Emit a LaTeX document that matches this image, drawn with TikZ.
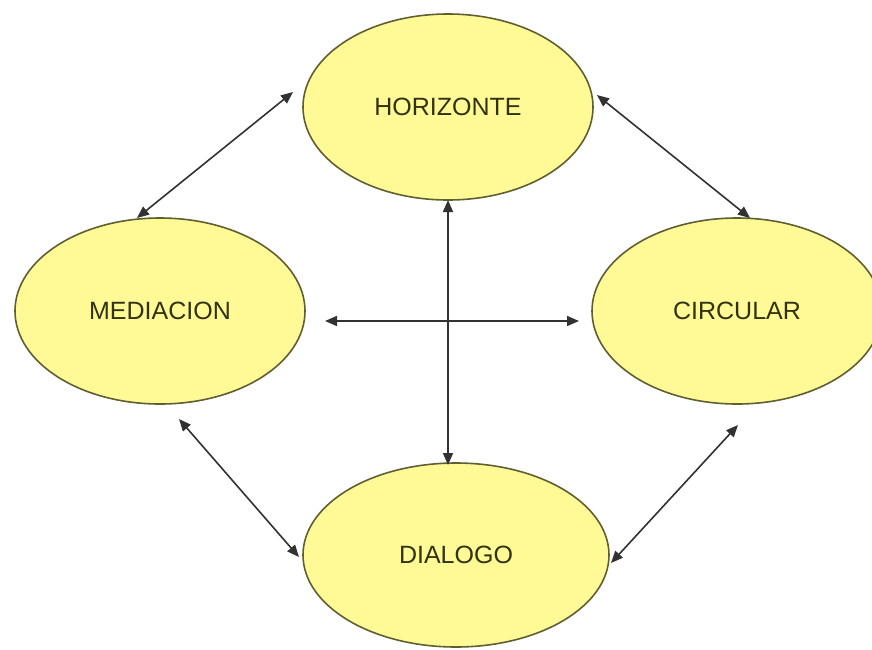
\documentclass[tikz,border=0pt]{standalone}
\usepackage{fontspec}
\setmainfont{Liberation Sans}
\usetikzlibrary{shapes.geometric,arrows.meta}
\definecolor{ellfill}{RGB}{255,250,150}
\definecolor{elldraw}{RGB}{95,95,50}
\definecolor{txtcol}{RGB}{50,50,15}
\definecolor{arrcol}{RGB}{50,50,50}
\tikzset{
  bubble/.style={ellipse, draw=elldraw, fill=ellfill, line width=1.6pt,
    minimum width=290pt, minimum height=186pt, inner sep=0pt,
    font=\fontsize{25}{28}\selectfont, text=txtcol},
  link/.style={draw=arrcol, line width=1.6pt,
    {Triangle[length=12pt,width=10pt]}-{Triangle[length=12pt,width=10pt]}}
}
\begin{document}
\begin{tikzpicture}[x=1pt,y=-1pt]
\useasboundingbox (0,0) rectangle (872,649);
\clip (0,0) rectangle (872,649);
\fill[white] (0,0) rectangle (872,649);
\node[bubble] (H) at (448,107) {HORIZONTE};
\node[bubble] (M) at (160,311) {MEDIACION};
\node[bubble] (C) at (737,311) {CIRCULAR};
\node[bubble, minimum width=306pt, minimum height=184pt] (D) at (456,555) {DIALOGO};
\coordinate (hm1) at (293,92);
\coordinate (hm2) at (137,218);
\coordinate (hc1) at (597,95);
\coordinate (hc2) at (750,218);
\coordinate (hd1) at (448,200);
\coordinate (hd2) at (448,465);
\coordinate (mc1) at (325,321);
\coordinate (mc2) at (579,321);
\coordinate (md1) at (179,419);
\coordinate (md2) at (299,557);
\coordinate (cd1) at (738,425);
\coordinate (cd2) at (611,563);
\draw[link] (hm1) -- (hm2);
\draw[link] (hc1) -- (hc2);
\draw[link] (hd1) -- (hd2);
\draw[link] (mc1) -- (mc2);
\draw[link] (md1) -- (md2);
\draw[link] (cd1) -- (cd2);
\end{tikzpicture}
\end{document}
